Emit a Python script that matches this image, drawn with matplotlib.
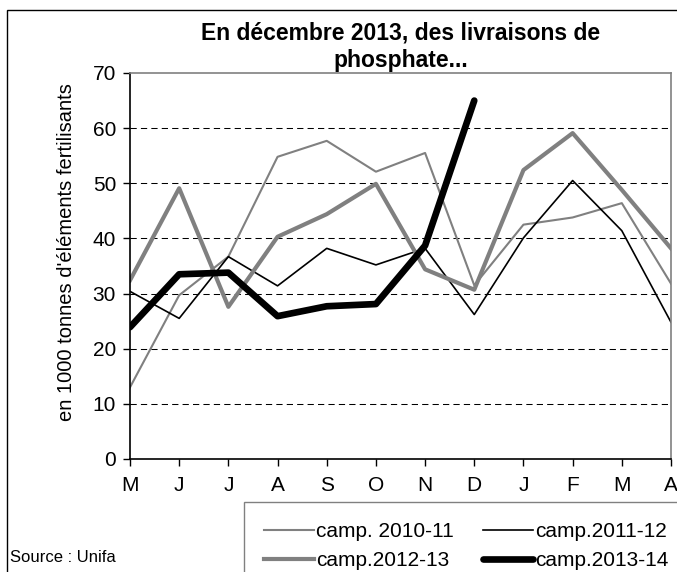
import matplotlib
matplotlib.use('Agg')
import matplotlib.pyplot as plt
from matplotlib.patches import Rectangle

plt.rcParams['font.family'] = ['Liberation Sans', 'DejaVu Sans']

# mois de la campagne (mai -> avril)
months = ['M', 'J', 'J', 'A', 'S', 'O', 'N', 'D', 'J', 'F', 'M', 'A']

# livraisons en 1000 tonnes d'éléments fertilisants
camp_2010_11 = [13.0, 29.7, 36.7, 54.8, 57.7, 52.1, 55.5, 31.5, 42.5, 43.8, 46.4, 31.8]
camp_2011_12 = [30.4, 25.5, 36.7, 31.4, 38.2, 35.2, 38.2, 26.2, 40.1, 50.5, 41.4, 24.8]
camp_2012_13 = [32.4, 49.1, 27.6, 40.3, 44.4, 49.9, 34.4, 30.7, 52.4, 59.1, 48.8, 38.2]
camp_2013_14 = [23.9, 33.5, 33.8, 25.9, 27.7, 28.1, 38.7, 65.0]

fig = plt.figure(figsize=(6.77, 5.72), dpi=100)
ax = fig.add_axes([130/677, 1-459/572, (671-130)/677, (459-73)/572])

x = list(range(len(months)))
l1, = ax.plot(x, camp_2010_11, color='#808080', lw=1.5, label='camp. 2010-11')
l2, = ax.plot(x, camp_2011_12, color='black', lw=1.2, label='camp.2011-12')
l3, = ax.plot(x, camp_2012_13, color='#808080', lw=3, label='camp.2012-13')
l4, = ax.plot(x[:len(camp_2013_14)], camp_2013_14, color='black', lw=4.8,
              label='camp.2013-14', solid_capstyle='round')

ax.set_xlim(0, 11)
ax.set_ylim(0, 70)
ax.set_yticks(range(0, 71, 10))
ax.set_xticks(x)
ax.set_xticklabels(months)
ax.tick_params(axis='both', labelsize=15, direction='out', length=5, width=1)
ax.tick_params(axis='x', pad=7)
ax.tick_params(axis='y', pad=5)

for y in range(10, 70, 10):
    ax.axhline(y, color='black', lw=0.75, linestyle=(0, (6, 4)), zorder=0)

ax.spines['left'].set_color('black')
ax.spines['bottom'].set_color('black')
ax.spines['top'].set_color('#808080')
ax.spines['right'].set_color('#808080')
for s in ax.spines.values():
    s.set_linewidth(1.2)

ax.set_title("En décembre 2013, des livraisons de\nphosphate...",
             fontsize=16.5, fontweight='bold', pad=4, linespacing=1.3)
ax.set_ylabel("en 1000 tonnes d'éléments fertilisants", fontsize=14.5)
ax.yaxis.set_label_coords(-0.1, 0.535)

# ordre des entrées : ligne par ligne
leg = fig.legend(handles=[l1, l3, l2, l4], ncol=2, loc='upper left',
                 bbox_to_anchor=(244/677, 1-502/572), borderaxespad=0, fontsize=15,
                 handlelength=2.4, handletextpad=0.1, columnspacing=1.4,
                 labelspacing=0.5, borderpad=0.95, fancybox=False,
                 framealpha=1)
leg.get_frame().set_edgecolor('#808080')
leg.get_frame().set_linewidth(1.0)

fig.text(10/677, 1-557/572, "Source : Unifa", fontsize=12, va='center', ha='left')

# cadre du graphique
fig.add_artist(Rectangle((7/677, -0.05), 1.1, 1.05 - 10/572, transform=fig.transFigure,
                         fill=False, edgecolor='black', lw=1.0, clip_on=False))

fig.savefig('out.png', dpi=100)
